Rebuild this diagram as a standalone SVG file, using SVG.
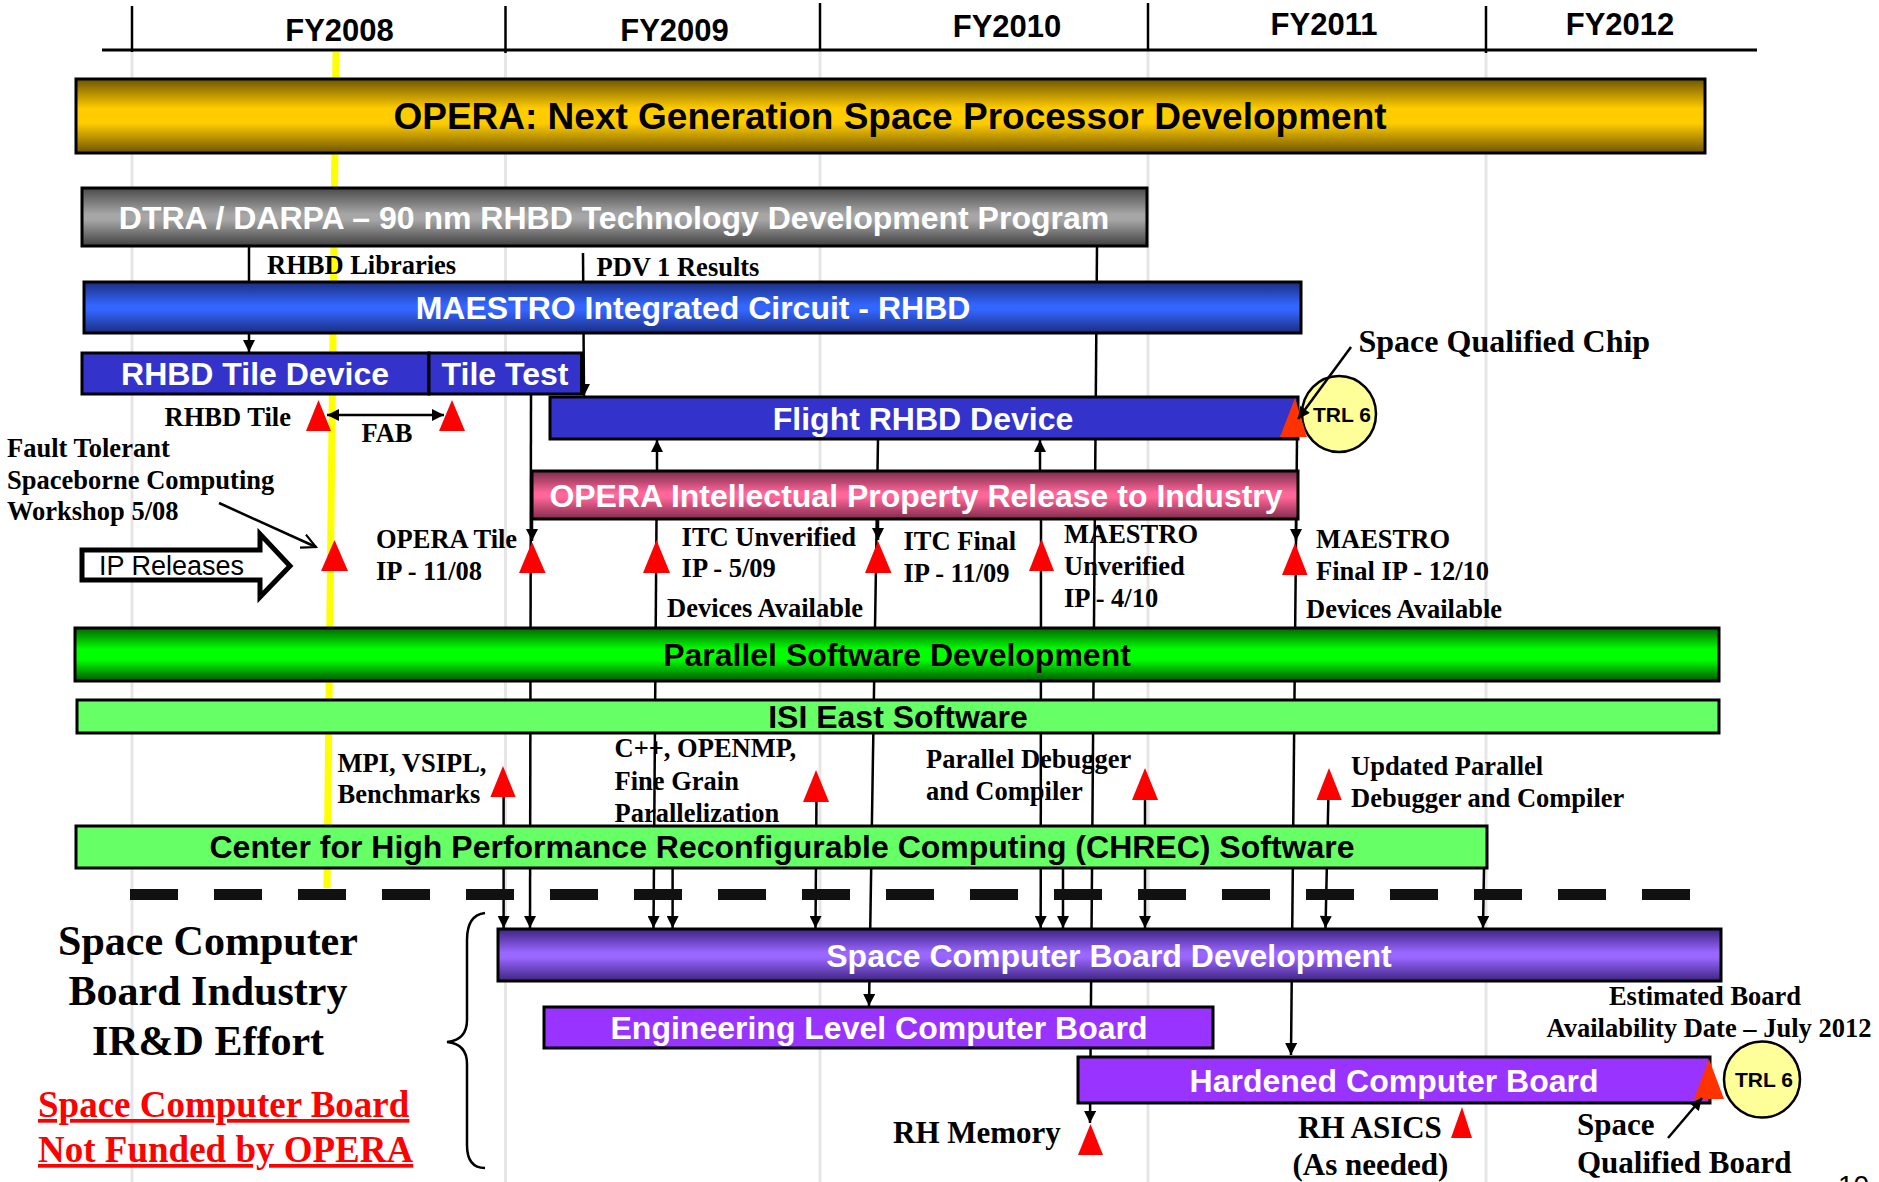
<svg xmlns="http://www.w3.org/2000/svg" width="1879" height="1182" viewBox="0 0 1879 1182">
<style>
.bar{stroke:#000;stroke-width:3}
.bt{font-family:"Liberation Sans",Arial,sans-serif;font-weight:bold;font-size:32px;text-anchor:middle;fill:#fff}
.bk{fill:#000}
.lb{font-family:"Liberation Serif","Times New Roman",serif;font-weight:bold;font-size:26.5px;fill:#000}
.big{font-size:31px}
.fy{font-family:"Liberation Sans",Arial,sans-serif;font-weight:bold;font-size:31px;text-anchor:middle;fill:#000}
.cn{stroke:#000;stroke-width:2.5;fill:none}
.grid{stroke:#e6e6e6;stroke-width:3}
.red{fill:#ff0000}
.org{fill:#ff3300}
.trl{fill:#ffff99;stroke:#000;stroke-width:2.5}
.trlt{font-family:"Liberation Sans",Arial,sans-serif;font-weight:bold;font-size:21px;text-anchor:middle;fill:#000}
</style>
<defs>
<linearGradient id="gGold" x1="0" y1="0" x2="0" y2="1"><stop offset="0" stop-color="#6e5400"/><stop offset="0.4" stop-color="#ffcc00"/><stop offset="0.6" stop-color="#ffcc00"/><stop offset="1" stop-color="#6e5400"/></linearGradient>
<linearGradient id="gGray" x1="0" y1="0" x2="0" y2="1"><stop offset="0" stop-color="#4a4a4a"/><stop offset="0.45" stop-color="#a6a6a6"/><stop offset="0.55" stop-color="#a6a6a6"/><stop offset="1" stop-color="#404040"/></linearGradient>
<linearGradient id="gBlue" x1="0" y1="0" x2="0" y2="1"><stop offset="0" stop-color="#1a2d80"/><stop offset="0.45" stop-color="#3366ff"/><stop offset="0.55" stop-color="#3366ff"/><stop offset="1" stop-color="#1a2d80"/></linearGradient>
<linearGradient id="gPink" x1="0" y1="0" x2="0" y2="1"><stop offset="0" stop-color="#7a2a4a"/><stop offset="0.45" stop-color="#ff6699"/><stop offset="0.55" stop-color="#ff6699"/><stop offset="1" stop-color="#802a4c"/></linearGradient>
<linearGradient id="gGreen" x1="0" y1="0" x2="0" y2="1"><stop offset="0" stop-color="#006600"/><stop offset="0.4" stop-color="#00ff00"/><stop offset="0.6" stop-color="#00ff00"/><stop offset="1" stop-color="#005500"/></linearGradient>
<linearGradient id="gPurple" x1="0" y1="0" x2="0" y2="1"><stop offset="0" stop-color="#3d2480"/><stop offset="0.45" stop-color="#9966ff"/><stop offset="0.55" stop-color="#9966ff"/><stop offset="1" stop-color="#3d2480"/></linearGradient>
<marker id="ah" viewBox="0 0 10 10" refX="10" refY="5" markerWidth="13" markerHeight="12" markerUnits="userSpaceOnUse" orient="auto-start-reverse"><path d="M0,0 L10,5 L0,10 z" fill="#000"/></marker>
<marker id="open" viewBox="0 0 10 10" refX="9" refY="5" markerWidth="16" markerHeight="16" markerUnits="userSpaceOnUse" orient="auto"><path d="M0,0.5 L9,5 L0,9.5" fill="none" stroke="#000" stroke-width="1.3"/></marker>
</defs>
<rect width="1879" height="1182" fill="#fff"/>

<g id="grid">
<line class="grid" x1="132" y1="50" x2="132" y2="1182"/>
<line class="grid" x1="505.5" y1="50" x2="505.5" y2="1182"/>
<line class="grid" x1="820" y1="50" x2="820" y2="1182"/>
<line class="grid" x1="1148" y1="50" x2="1148" y2="1182"/>
<line class="grid" x1="1486" y1="50" x2="1486" y2="1182"/>
</g>

<g id="timeline">
<line x1="102" y1="50" x2="1757" y2="50" stroke="#000" stroke-width="3"/>
<line x1="132" y1="6" x2="132" y2="52" stroke="#000" stroke-width="2.5"/>
<line x1="505.5" y1="6" x2="505.5" y2="53" stroke="#000" stroke-width="2.5"/>
<line x1="820" y1="3" x2="820" y2="50" stroke="#000" stroke-width="2.5"/>
<line x1="1148" y1="3" x2="1148" y2="50" stroke="#000" stroke-width="2.5"/>
<line x1="1486" y1="6" x2="1486" y2="53" stroke="#000" stroke-width="2.5"/>
<text class="fy" x="339.5" y="41">FY2008</text>
<text class="fy" x="674.5" y="41">FY2009</text>
<text class="fy" x="1007" y="37">FY2010</text>
<text class="fy" x="1324" y="35">FY2011</text>
<text class="fy" x="1620" y="35">FY2012</text>
</g>

<line id="today" x1="336" y1="52" x2="327" y2="888" stroke="#ffff00" stroke-width="7"/>

<g id="connectors">
<line class="cn" x1="249" y1="246" x2="249" y2="352" marker-end="url(#ah)"/>
<line class="cn" x1="583" y1="253" x2="584" y2="396" marker-end="url(#ah)"/>
<line class="cn" x1="1097" y1="246" x2="1090" y2="1123" marker-end="url(#ah)"/>
<line class="cn" x1="531" y1="394" x2="530" y2="928" marker-end="url(#ah)"/>
<line class="cn" x1="532" y1="519" x2="532" y2="541" marker-end="url(#ah)"/>
<line class="cn" x1="657" y1="471" x2="657" y2="440" marker-end="url(#ah)"/>
<line class="cn" x1="656.5" y1="519" x2="653.5" y2="928" marker-end="url(#ah)"/>
<line class="cn" x1="672.6" y1="868" x2="672.6" y2="928" marker-end="url(#ah)"/>
<line class="cn" x1="878" y1="439" x2="869" y2="1006" marker-end="url(#ah)"/>
<line class="cn" x1="878" y1="519" x2="878" y2="540" marker-end="url(#ah)"/>
<line class="cn" x1="1040" y1="471" x2="1040" y2="440" marker-end="url(#ah)"/>
<line class="cn" x1="1041" y1="519" x2="1040.7" y2="928" marker-end="url(#ah)"/>
<line class="cn" x1="1063" y1="868" x2="1063" y2="928" marker-end="url(#ah)"/>
<line class="cn" x1="1297" y1="439" x2="1291" y2="1055" marker-end="url(#ah)"/>
<line class="cn" x1="1296" y1="519" x2="1296" y2="541" marker-end="url(#ah)"/>
<line class="cn" x1="503.6" y1="790" x2="503.6" y2="928" marker-end="url(#ah)"/>
<line class="cn" x1="816.5" y1="795" x2="815.5" y2="928" marker-end="url(#ah)"/>
<line class="cn" x1="1145" y1="792" x2="1145" y2="928" marker-end="url(#ah)"/>
<line class="cn" x1="1328.5" y1="792" x2="1325.5" y2="928" marker-end="url(#ah)"/>
<line class="cn" x1="1484" y1="868" x2="1483" y2="928" marker-end="url(#ah)"/>
<line class="cn" x1="327" y1="415" x2="444" y2="415" marker-start="url(#ah)" marker-end="url(#ah)"/>
<line class="cn" x1="219" y1="503" x2="316" y2="547" marker-end="url(#open)"/>
</g>

<line id="divider" x1="130" y1="894.5" x2="1691" y2="894.5" stroke="#111" stroke-width="11" stroke-dasharray="48 36"/>

<g id="opera">
<rect class="bar" x="76" y="79" width="1629" height="74" fill="url(#gGold)"/>
<text class="bt bk" x="890" y="129" style="font-size:37px">OPERA: Next Generation Space Processor Development</text>
</g>
<g id="dtra">
<rect class="bar" x="82" y="188" width="1065" height="58" fill="url(#gGray)"/>
<text class="bt" x="614" y="229">DTRA / DARPA – 90 nm RHBD Technology Development Program</text>
</g>
<g id="maestro">
<rect class="bar" x="84" y="282" width="1217" height="51" fill="url(#gBlue)"/>
<text class="bt" x="693" y="319">MAESTRO Integrated Circuit - RHBD</text>
</g>
<g id="rhbd-tile">
<rect class="bar" x="82" y="353" width="347" height="41" fill="#3333cc"/>
<text class="bt" x="255" y="385">RHBD Tile Device</text>
</g>
<g id="tile-test">
<rect class="bar" x="429" y="353" width="152.5" height="41" fill="#3333cc"/>
<text class="bt" x="505" y="385">Tile Test</text>
</g>
<g id="flight">
<rect class="bar" x="550" y="397" width="748" height="42" fill="#3333cc"/>
<text class="bt" x="923" y="430">Flight RHBD Device</text>
</g>
<g id="opera-ip">
<rect class="bar" x="532" y="471" width="766" height="48" fill="url(#gPink)"/>
<text class="bt" x="916" y="507">OPERA Intellectual Property Release to Industry</text>
</g>
<g id="parallel">
<rect class="bar" x="75" y="628" width="1644" height="53" fill="url(#gGreen)"/>
<text class="bt bk" x="897" y="666">Parallel Software Development</text>
</g>
<g id="isi">
<rect class="bar" x="77" y="700" width="1642" height="33" fill="#66ff66"/>
<text class="bt bk" x="898" y="728">ISI East Software</text>
</g>
<g id="chrec">
<rect class="bar" x="76" y="826" width="1411" height="42" fill="#66ff66"/>
<text class="bt bk" x="782" y="858">Center for High Performance Reconfigurable Computing (CHREC) Software</text>
</g>
<g id="scbd">
<rect class="bar" x="498" y="929" width="1223" height="52" fill="url(#gPurple)"/>
<text class="bt" x="1109" y="967">Space Computer Board Development</text>
</g>
<g id="eng">
<rect class="bar" x="544" y="1007" width="669" height="41" fill="#9933ff"/>
<text class="bt" x="879" y="1039">Engineering Level Computer Board</text>
</g>
<g id="hardened">
<rect class="bar" x="1078" y="1057" width="632" height="46" fill="#9933ff"/>
<text class="bt" x="1394" y="1092">Hardened Computer Board</text>
</g>

<g id="milestones">
<polygon class="red" points="318.5,400 331,431 306,431"/>
<polygon class="red" points="452,400 465,431 439,431"/>
<polygon class="red" points="334.5,540 348,571 321,571"/>
<polygon class="red" points="532,542 545.6,573 519,573"/>
<polygon class="red" points="656.5,540 670,573 643,573"/>
<polygon class="red" points="878,541 891.5,573 865,573"/>
<polygon class="red" points="1041.5,539 1054,571 1029,571"/>
<polygon class="red" points="1295,543 1307.5,575 1282,575"/>
<polygon class="red" points="503,766 515.6,797 490.4,797"/>
<polygon class="red" points="816,770 829,802 803,802"/>
<polygon class="red" points="1145,768 1158,800 1132,800"/>
<polygon class="red" points="1329,768 1341.7,800 1316.5,800"/>
<polygon class="red" points="1090.5,1124 1103,1155 1078,1155"/>
<polygon class="red" points="1462,1107 1472,1138 1451,1138"/>
</g>

<g id="trl-chip">
<ellipse class="trl" cx="1339" cy="414" rx="37" ry="38"/>
<polygon class="org" points="1295,398 1307,437 1280,437"/>
<text class="trlt" x="1342" y="421.5">TRL 6</text>
</g>
<g id="trl-board">
<ellipse class="trl" cx="1762" cy="1079.5" rx="38" ry="38"/>
<polygon class="org" points="1709,1059 1724,1099 1694,1099"/>
<text class="trlt" x="1764" y="1087">TRL 6</text>
</g>

<g id="ip-releases">
<polygon points="82,550 260,550 260,534 290,566 260,597 260,580 82,580" fill="#fff" stroke="#000" stroke-width="5"/>
<text x="99" y="575" style="font-family:'Liberation Sans',Arial,sans-serif;font-size:27px;fill:#000">IP Releases</text>
</g>

<g id="callouts">
<line class="cn" x1="1351" y1="347" x2="1298" y2="419" marker-end="url(#ah)"/>
<line class="cn" x1="1668" y1="1138" x2="1702" y2="1098" marker-end="url(#ah)"/>
<path class="cn" d="M485,913 Q467,915 467,940 L467,1020 Q467,1040 447,1042 Q467,1044 467,1064 L467,1145 Q467,1168 485,1168"/>
</g>

<g id="labels">
<text class="lb" x="267" y="274">RHBD Libraries</text>
<text class="lb" x="596.5" y="276">PDV 1 Results</text>
<text class="lb" x="1358.5" y="352" style="font-size:32px">Space Qualified Chip</text>
<text class="lb" x="291" y="426" text-anchor="end">RHBD Tile</text>
<text class="lb" x="361.5" y="442">FAB</text>
<text class="lb" x="7" y="457">Fault Tolerant</text>
<text class="lb" x="7" y="489">Spaceborne Computing</text>
<text class="lb" x="7" y="520">Workshop 5/08</text>
<text class="lb" x="376" y="548">OPERA Tile</text>
<text class="lb" x="376" y="580">IP - 11/08</text>
<text class="lb" x="681.6" y="546">ITC Unverified</text>
<text class="lb" x="681.6" y="577">IP - 5/09</text>
<text class="lb" x="667" y="617">Devices Available</text>
<text class="lb" x="903.5" y="550">ITC Final</text>
<text class="lb" x="903.5" y="582">IP - 11/09</text>
<text class="lb" x="1064" y="543">MAESTRO</text>
<text class="lb" x="1064" y="575">Unverified</text>
<text class="lb" x="1064" y="607">IP - 4/10</text>
<text class="lb" x="1316" y="548">MAESTRO</text>
<text class="lb" x="1316" y="580">Final IP - 12/10</text>
<text class="lb" x="1306" y="618">Devices Available</text>
<text class="lb" x="337.5" y="772">MPI, VSIPL,</text>
<text class="lb" x="337.5" y="803">Benchmarks</text>
<text class="lb" x="614.5" y="757">C++, OPENMP,</text>
<text class="lb" x="614.5" y="790">Fine Grain</text>
<text class="lb" x="614.5" y="822">Parallelization</text>
<text class="lb" x="926" y="768">Parallel Debugger</text>
<text class="lb" x="926" y="800">and Compiler</text>
<text class="lb" x="1351" y="775">Updated Parallel</text>
<text class="lb" x="1351" y="807">Debugger and Compiler</text>
<text class="lb" x="1705" y="1005" text-anchor="middle">Estimated Board</text>
<text class="lb" x="1709" y="1037" text-anchor="middle">Availability Date – July 2012</text>
<text class="lb big" x="893" y="1143">RH Memory</text>
<text class="lb big" x="1298" y="1138">RH ASICS</text>
<text class="lb big" x="1292.5" y="1175">(As needed)</text>
<text class="lb big" x="1577" y="1135">Space</text>
<text class="lb big" x="1577" y="1173">Qualified Board</text>
<text class="lb" x="208" y="955" text-anchor="middle" style="font-size:42px">Space Computer</text>
<text class="lb" x="208" y="1005" text-anchor="middle" style="font-size:42px">Board Industry</text>
<text class="lb" x="208" y="1055" text-anchor="middle" style="font-size:42px">IR&amp;D Effort</text>
<text class="lb" x="38" y="1117" style="font-size:37px;fill:#ff0000;text-decoration:underline">Space Computer Board</text>
<text class="lb" x="38" y="1162" style="font-size:37px;fill:#ff0000;text-decoration:underline">Not Funded by OPERA</text>
<text x="1838" y="1195" style="font-family:'Liberation Sans',Arial,sans-serif;font-size:28px;fill:#000">10</text>
</g>
</svg>
